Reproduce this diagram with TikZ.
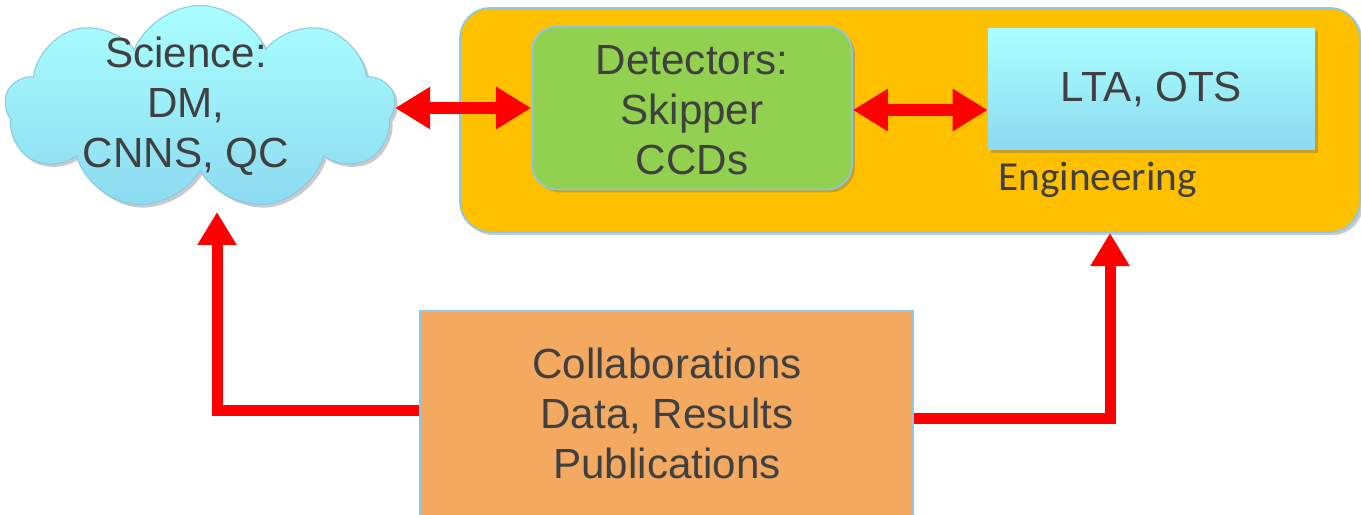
\documentclass[tikz,border=0pt]{standalone}
\usepackage{fontspec}
\setmainfont{Liberation Sans}
\newfontfamily\carlito{Carlito}
\usetikzlibrary{shapes.symbols,arrows.meta,shadows}
\definecolor{txtgrey}{RGB}{64,64,64}
\definecolor{edgeblue}{RGB}{140,200,228}
\definecolor{cyantop}{RGB}{170,255,255}
\definecolor{cyanbot}{RGB}{140,218,240}
\definecolor{engyellow}{RGB}{255,192,0}
\definecolor{detgreen}{RGB}{146,208,80}
\definecolor{collorange}{RGB}{244,169,96}
\definecolor{arrred}{RGB}{255,0,0}
\begin{document}
\begin{tikzpicture}[x=0.02cm,y=-0.02cm,
  bigtext/.style={text=txtgrey,font=\fontsize{24}{28.5}\selectfont,align=center},
  shadowed/.style={drop shadow={shadow xshift=0.06cm,shadow yshift=-0.06cm,opacity=0.35,fill=black!60}},
  cloudbox/.style={cloud,cloud puffs=9,cloud puff arc=135,draw=edgeblue,line width=0.6pt,
    top color=cyantop,bottom color=cyanbot,shadowed,inner sep=0pt},
  engbox/.style={rectangle,rounded corners=0.6cm,draw=edgeblue,line width=1pt,fill=engyellow,shadowed},
  detbox/.style={rectangle,rounded corners=0.5cm,draw=edgeblue,line width=1pt,fill=detgreen,shadowed,bigtext},
  ltabox/.style={rectangle,top color=cyantop,bottom color=cyanbot,draw=none,shadowed,bigtext},
  collbox/.style={rectangle,draw=edgeblue,line width=1pt,fill=collorange,bigtext},
  dblarrow/.style={draw=arrred,line width=0.24cm,{Triangle[length=0.7cm,width=0.8cm]}-{Triangle[length=0.7cm,width=0.8cm]}},
  uparrow/.style={draw=arrred,line width=0.22cm,-{Triangle[length=0.66cm,width=0.74cm]}}
]
\useasboundingbox (0,0) rectangle (1361,514);
% Engineering container
\node[engbox,minimum width=18cm,minimum height=4.48cm] (eng) at (910,120) {};
% Cloud
\node[cloudbox,minimum width=7.8cm,minimum height=4.1cm] (sci) at (200,108) {};
\node[bigtext] (scitxt) at (186,106) {Science:\\DM,\\CNNS, QC};
% Detectors
\node[detbox,minimum width=6.4cm,minimum height=3.26cm] (det) at (692,108) {};
\node[bigtext] (dettxt) at (692,110) {Detectors:\\Skipper\\CCDs};
% LTA
\node[ltabox,minimum width=6.54cm,minimum height=2.44cm] (lta) at (1151.5,89) {LTA, OTS};
\node[text=txtgrey,font=\carlito\fontsize{23.5}{28}\selectfont,anchor=west,inner sep=0pt] (engtxt) at (998,180) {Engineering};
% Collaborations
\node[collbox,minimum width=9.86cm,minimum height=4.1cm] (coll) at (666.5,413.5) {};
\node[bigtext] (colltxt) at (667,413) {Collaborations\\Data, Results\\Publications};
% connectors
\coordinate (sciin) at (217,212);
\coordinate (engin) at (1110,233);
\coordinate (collL) at (420,410);
\coordinate (collR) at (913,418);
\draw[dblarrow] (sci.east |- det.west) -- (det.west);
\draw[dblarrow] (det.east |- 0,110) -- (lta.west |- 0,110);
\draw[uparrow] (coll.west |- collL) -| (sciin);
\draw[uparrow] (coll.east |- collR) -| (engin);
\end{tikzpicture}
\end{document}
